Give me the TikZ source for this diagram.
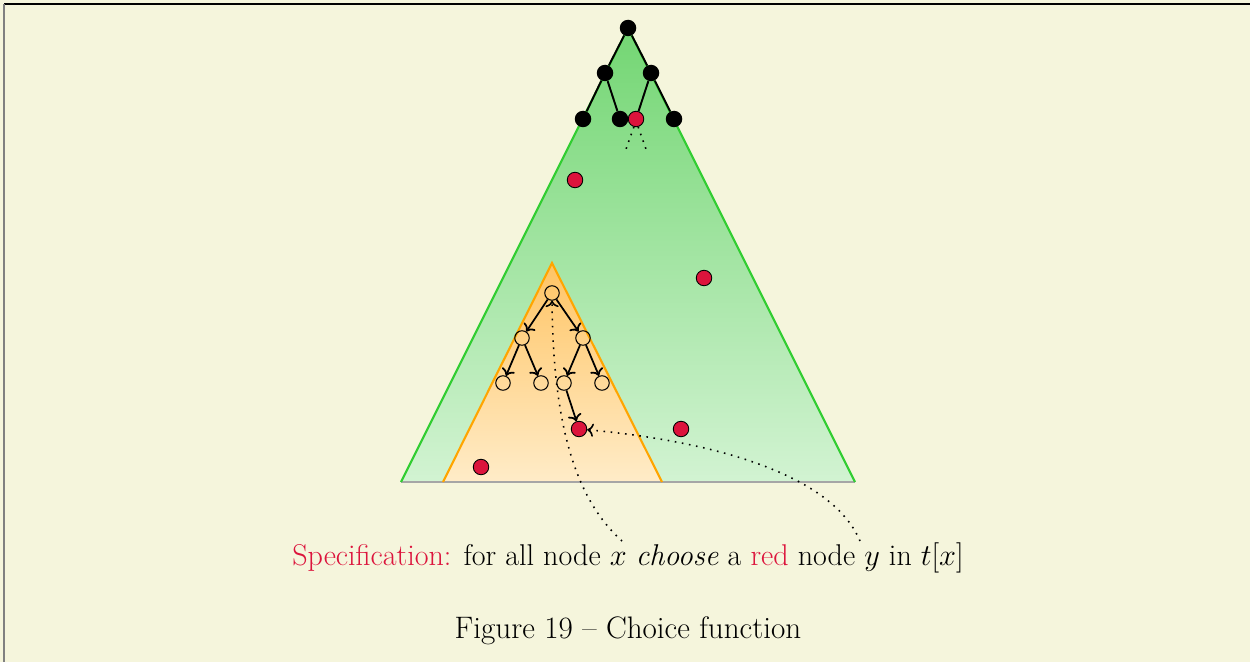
\documentclass[tikz,border=0pt]{standalone}
\usepackage{fontspec}
\usetikzlibrary{arrows.meta}
\definecolor{bgc}{RGB}{245,245,220}
\definecolor{gedge}{RGB}{50,205,50}
\definecolor{gtop}{RGB}{115,214,115}
\definecolor{gbot}{RGB}{210,243,210}
\definecolor{oedge}{RGB}{255,165,0}
\definecolor{otop}{RGB}{255,196,100}
\definecolor{obot}{RGB}{255,236,200}
\definecolor{crim}{RGB}{220,20,60}
\begin{document}
\begin{tikzpicture}[x=0.02cm,y=-0.02cm,
  blk/.style={circle,fill=black,inner sep=0pt,minimum size=0.33cm},
  rednode/.style={circle,fill=crim,draw=black,line width=0.5pt,inner sep=0pt,minimum size=0.31cm},
  onode/.style={circle,draw=black,line width=0.6pt,inner sep=0pt,minimum size=0.29cm},
  tedge/.style={line width=1.1pt},
  oarrow/.style={->,line width=1pt},
  dotline/.style={line width=0.9pt,dash pattern=on 0.9pt off 3.2pt},
  dotarrow/.style={->,line width=0.9pt,dash pattern=on 0.9pt off 3.2pt},
  txt/.style={font=\fontsize{17.1}{20}\selectfont,inner sep=0pt},
  captxt/.style={font=\fontsize{17.7}{21}\selectfont,inner sep=0pt}
]
\fill[bgc] (0,0) rectangle (1250,662);
\useasboundingbox (0,0) rectangle (1250,662);
\draw[black,line width=1.1pt] (4,4) -- (1250,4);
\draw[gray,line width=1.1pt] (4,4) -- (4,662);

% green triangle
\shade[top color=gtop,bottom color=gbot] (628,28) -- (401,482) -- (855,482) -- cycle;
\draw[gray!70,line width=0.6pt] (401,482) -- (855,482);
\draw[gedge,line width=1.2pt] (401,482) -- (628,28) -- (855,482);

% orange triangle
\shade[top color=otop,bottom color=obot] (552,263) -- (443,482) -- (662,482) -- cycle;
\draw[gray!70,line width=0.6pt] (443,482) -- (662,482);
\draw[oedge,line width=1.2pt] (443,482) -- (552,263) -- (662,482);

% top tree
\node[blk] (r) at (628,28) {};
\node[blk] (a) at (605,73) {};
\node[blk] (b) at (651,73) {};
\node[blk] (c) at (583,119) {};
\node[blk] (d) at (620,119) {};
\node[rednode] (e) at (636,119) {};
\node[blk] (f) at (674,119) {};
\draw[tedge] (r) -- (a);
\draw[tedge] (r) -- (b);
\draw[tedge] (a) -- (c);
\draw[tedge] (a) -- (d);
\draw[tedge] (b) -- (e);
\draw[tedge] (b) -- (f);
\coordinate (p1) at (625,152);
\coordinate (p2) at (647,152);
\draw[dotline] (e.-105) -- (p1);
\draw[dotline] (e.-75) -- (p2);

% scattered red nodes
\node[rednode] (r1) at (575,180) {};
\node[rednode] (r2) at (704,278) {};
\node[rednode] (r3) at (681,429) {};
\node[rednode] (r5) at (481,467) {};
\node[rednode] (tgt) at (579,429) {};

% orange tree
\node[onode] (o) at (552,293) {};
\node[onode] (o1) at (522,338) {};
\node[onode] (o2) at (583,338) {};
\node[onode] (o11) at (503,383) {};
\node[onode] (o12) at (541,383) {};
\node[onode] (o21) at (564,383) {};
\node[onode] (o22) at (602,383) {};
\draw[oarrow] (o) -- (o1);
\draw[oarrow] (o) -- (o2);
\draw[oarrow] (o1) -- (o11);
\draw[oarrow] (o1) -- (o12);
\draw[oarrow] (o2) -- (o21);
\draw[oarrow] (o2) -- (o22);
\draw[oarrow] (o21) -- (tgt);

% text
\node[txt,anchor=base] (spec) at (628,565) {\textcolor{crim}{Specification:} for all node $x$ \emph{choose} a \textcolor{crim}{red} node $y$ in $t[x]$};
\node[captxt,anchor=base] (cap) at (628,638) {Figure 19 -- Choice function};

\coordinate (xc) at (622,541);
\coordinate (yc) at (860,541);
\draw[dotarrow] (xc) .. controls (582,505) and (553,440) .. (o);
\draw[dotarrow] (yc) .. controls (830,470) and (700,440) .. (tgt);
\end{tikzpicture}
\end{document}
